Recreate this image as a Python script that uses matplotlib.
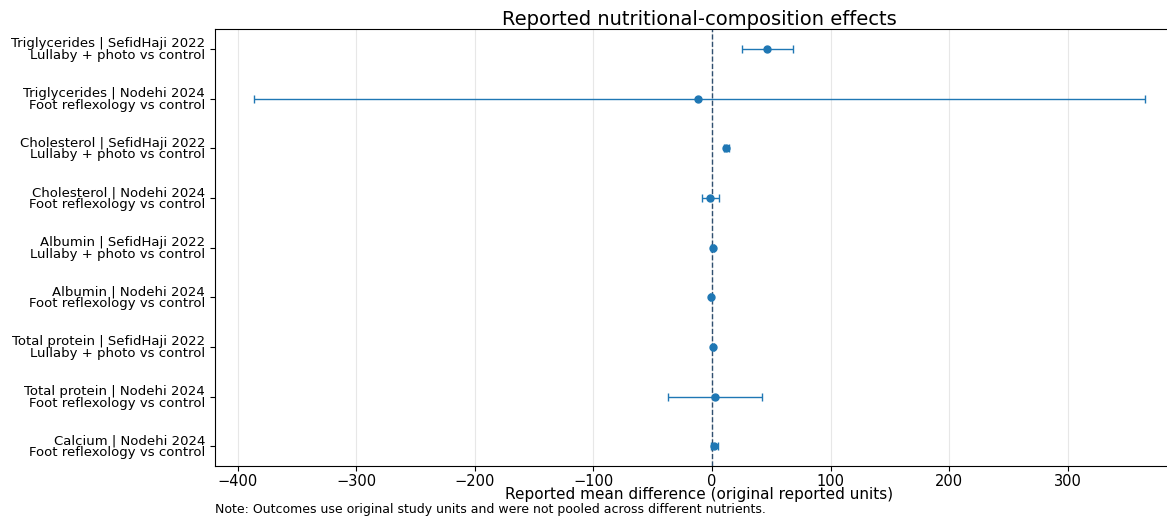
import matplotlib
matplotlib.use('Agg')
import matplotlib.pyplot as plt
import numpy as np

# rows listed top to bottom
labels = [
    'Triglycerides | SefidHaji 2022\nLullaby + photo vs control',
    'Triglycerides | Nodehi 2024\nFoot reflexology vs control',
    'Cholesterol | SefidHaji 2022\nLullaby + photo vs control',
    'Cholesterol | Nodehi 2024\nFoot reflexology vs control',
    'Albumin | SefidHaji 2022\nLullaby + photo vs control',
    'Albumin | Nodehi 2024\nFoot reflexology vs control',
    'Total protein | SefidHaji 2022\nLullaby + photo vs control',
    'Total protein | Nodehi 2024\nFoot reflexology vs control',
    'Calcium | Nodehi 2024\nFoot reflexology vs control',
]
md = [46, -12, 12, -1.5, 0.5, -1, 1, 2.5, 2]
ci_low = [25, -386, 10, -8.5, -0.5, -2, 0, -37, -1]
ci_high = [68, 365, 14, 6, 1.5, 0, 2, 42, 5]

md = np.array(md)
err = np.array([md - np.array(ci_low), np.array(ci_high) - md])
y = np.arange(len(labels))

fig = plt.figure(figsize=(11.67, 5.19), dpi=100)
# axes runs past the right edge, like the cropped original
ax = fig.add_axes([0.1842, 0.102, 0.8305, 0.842])

ax.errorbar(md, y, xerr=err, fmt='o', color='C0', ecolor='C0',
            markersize=5, capsize=3, elinewidth=1, zorder=3)
ax.axvline(0, color='#2f4f6f', linestyle='--', linewidth=1, zorder=2)

ax.set_yticks(y)
ax.set_yticklabels(labels, fontsize=9.5, linespacing=0.85)
ax.invert_yaxis()
ax.set_xlim(-419, 398)
ax.tick_params(axis='x', labelsize=10.5, pad=2)
ax.grid(axis='x', alpha=0.3)
ax.set_title('Reported nutritional-composition effects', fontsize=14, pad=3)
ax.set_xlabel('Reported mean difference (original reported units)', fontsize=11, labelpad=-1.5)

fig.text(0.1842, 0.018, 'Note: Outcomes use original study units and were not pooled across different nutrients.',
         fontsize=9, ha='left', va='center')

fig.savefig('out.png', dpi=100)
